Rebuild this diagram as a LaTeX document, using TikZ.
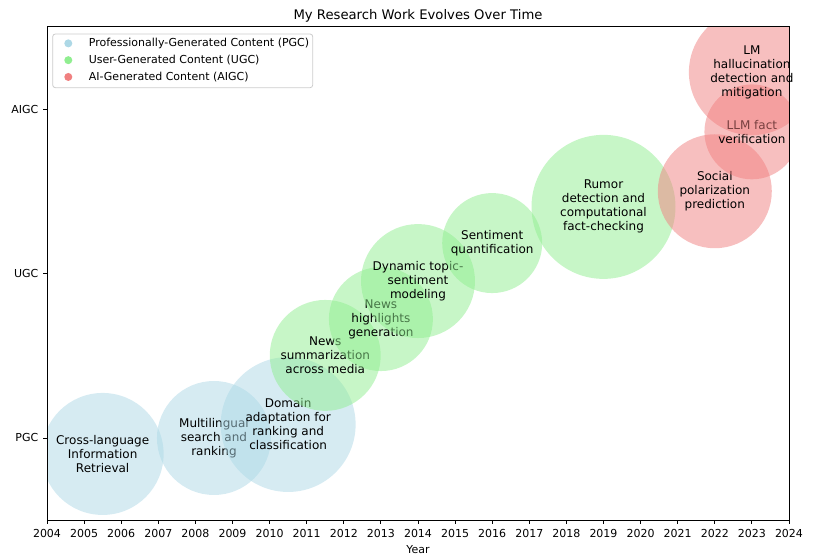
\documentclass[tikz,border=0pt]{standalone}
\usepackage{fontspec}
\setmainfont{DejaVu Sans}
\usepackage{xcolor}
\usepackage{tikz}
\usetikzlibrary{positioning}
\definecolor{pgccol}{RGB}{173,216,230}
\definecolor{ugccol}{RGB}{144,238,144}
\definecolor{aigccol}{RGB}{240,128,128}
\definecolor{legedge}{RGB}{204,204,204}

\begin{document}
\begin{tikzpicture}[x=27.825pt, y=123.375pt,
        bubtext/.style={align=center, inner sep=0pt, font=\fontsize{9}{10.5}\selectfont},
        ticklab/.style={inner sep=0pt, font=\fontsize{8.25}{9.9}\selectfont},
        axline/.style={line width=0.66pt, black},
        pgc/.style={fill=pgccol, fill opacity=0.5},
        ugc/.style={fill=ugccol, fill opacity=0.5},
        aigc/.style={fill=aigccol, fill opacity=0.5},
        legmark/.style={circle, inner sep=0pt, minimum size=6pt},
        legtext/.style={inner sep=0pt, font=\fontsize{8.25}{9.9}\selectfont}]
        \useasboundingbox (-1.267,-0.7112) rectangle (20.674,2.6626);
        %AXES CORNERS
        \coordinate (axsw) at (0,-0.5);
        \coordinate (axne) at (20,2.5);
        \coordinate (axtop) at (10,2.5);
        %PGC
        \begin{scope}
            \clip (axsw) rectangle (axne);
            \fill[pgc] (1.5,-0.097) circle [radius=45.75pt];
        \end{scope}
        \node[bubtext] (clir) at (1.5,-0.097) {Cross-language\\Information\\Retrieval};
        \fill[pgc] (4.5,0) circle [radius=42.75pt];
        \node[bubtext] (mlsr) at (4.5,0) {Multilingual\\search and\\ranking};
        \fill[pgc] (6.5,0.082) circle [radius=50.6pt];
        \node[bubtext] (dadapt) at (6.5,0.082) {Domain\\adaptation for\\ranking and\\classification};
        %UGC
        \fill[ugc] (7.5,0.502) circle [radius=41.6pt];
        \node[bubtext] (newssum) at (7.5,0.502) {News\\summarization\\across media};
        \fill[ugc] (9,0.723) circle [radius=39pt];
        \node[bubtext] (newshl) at (9,0.723) {News\\highlights\\generation};
        \fill[ugc] (10,0.954) circle [radius=42.75pt];
        \node[bubtext] (dtsm) at (10,0.954) {Dynamic topic-\\sentiment\\modeling};
        \fill[ugc] (12,1.185) circle [radius=37.5pt];
        \node[bubtext] (sentq) at (12,1.185) {Sentiment\\quantification};
        \fill[ugc] (15,1.405) circle [radius=54pt];
        \node[bubtext] (rumor) at (15,1.405) {Rumor\\detection and\\computational\\fact-checking};
        %AIGC
        \fill[aigc] (18,1.500) circle [radius=42.75pt];
        \node[bubtext] (socpol) at (18,1.500) {Social\\polarization\\prediction};
        \begin{scope}
            \clip (axsw) rectangle (axne);
            \fill[aigc] (19,1.861) circle [radius=35.6pt];
        \end{scope}
        \node[bubtext] (llmfv) at (19,1.861) {LLM fact\\verification};
        \begin{scope}
            \clip (axsw) rectangle (axne);
            \fill[aigc] (19,2.224) circle [radius=47.25pt];
        \end{scope}
        \node[bubtext] (lmhall) at (19,2.224) {LM\\hallucination\\detection and\\mitigation};
        %FRAME AND TICKS
        \draw[axline] (axsw) rectangle (axne);
        \foreach \yr [count=\i from 0] in {2004,...,2024}
            \draw[axline] (\i,-0.5) -- ++(0,-2.9pt) node[ticklab, below=3.3pt] (xt\i) {\yr};
        \foreach \lev/\lab in {0/PGC,1/UGC,2/AIGC}
            \draw[axline] (0,\lev) -- ++(-2.9pt,0) node[ticklab, left=3.3pt] (yt\lev) {\lab};
        \node[ticklab, below=5.5pt of xt10] (xlab) {Year};
        %TITLE
        \node[anchor=base, inner sep=0pt, font=\fontsize{9.9}{12}\selectfont] (title) at ([yshift=5.25pt]axtop) {My Research Work Evolves Over Time};
        %LEGEND
        \draw[legedge, line width=0.6pt, rounded corners=2pt, fill=white, fill opacity=0.8] (0.154,2.1295) rectangle (7.162,2.456);
        \node[legmark, fill=pgccol] (mpgc) at (0.574,2.399) {};
        \node[legmark, fill=ugccol, below=6.2pt of mpgc] (mugc) {};
        \node[legmark, fill=aigccol, below=6.2pt of mugc] (maigc) {};
        \node[legtext, right=12pt of mpgc] (lpgc) {Professionally-Generated Content (PGC)};
        \node[legtext, right=12pt of mugc] (lugc) {User-Generated Content (UGC)};
        \node[legtext, right=12pt of maigc] (laigc) {AI-Generated Content (AIGC)};
\end{tikzpicture}
\end{document}
